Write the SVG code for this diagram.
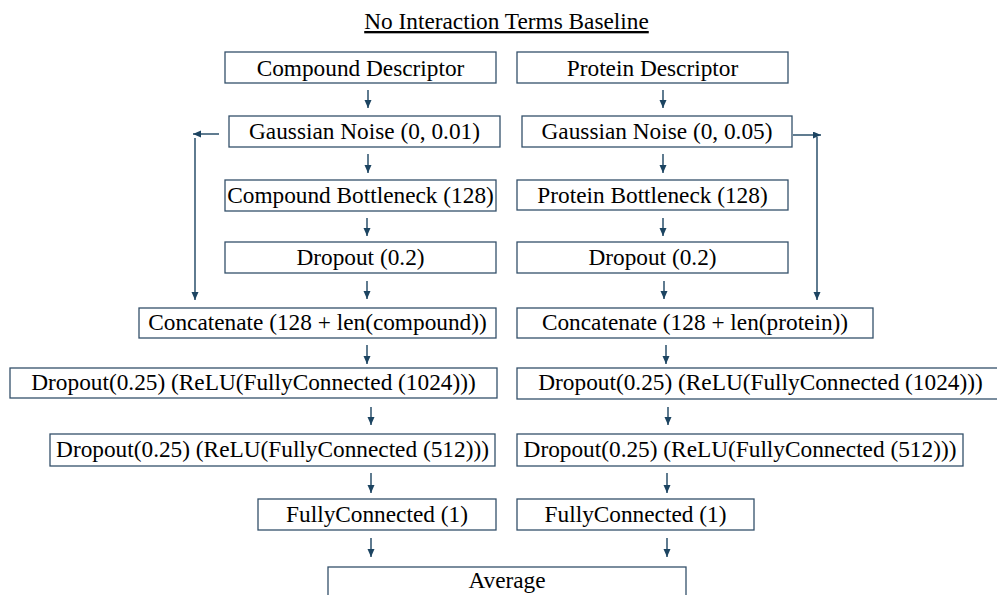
<svg xmlns="http://www.w3.org/2000/svg" width="997" height="595" viewBox="0 0 997 595">
<defs>
<marker id="ah" markerUnits="userSpaceOnUse" markerWidth="9" markerHeight="8" refX="8" refY="3.5" orient="auto">
<path d="M0,0 L8,3.5 L0,7 z" fill="#1c4461"/>
</marker>
<style>
.box{fill:#ffffff;stroke:#34506a;stroke-width:1.3}
.t{font-size:23.3px;fill:#000;text-anchor:middle}
.c{fill:none;stroke:#1c4461;stroke-width:1.4;marker-end:url(#ah)}
</style>
</defs>
<rect width="997" height="595" fill="#ffffff"/>
<g font-family="Liberation Serif, Times New Roman, DejaVu Serif, serif">
<text class="t" x="506.5" y="29" text-decoration="underline">No Interaction Terms Baseline</text>

<g id="connectors">
<path class="c" d="M368,90 V108"/>
<path class="c" d="M368,154 V173"/>
<path class="c" d="M367,218 V236"/>
<path class="c" d="M367,281 V299"/>
<path class="c" d="M367,345 V364"/>
<path class="c" d="M371,407 V425"/>
<path class="c" d="M371,473 V493"/>
<path class="c" d="M371,538 V557"/>
<path class="c" d="M663,90 V108"/>
<path class="c" d="M663,154 V173"/>
<path class="c" d="M663,218 V236"/>
<path class="c" d="M664,281 V299"/>
<path class="c" d="M666,345 V364"/>
<path class="c" d="M668,407 V425"/>
<path class="c" d="M667,473 V493"/>
<path class="c" d="M667,538 V557"/>
<path class="c" d="M219,134 H193"/>
<path class="c" d="M195,138 V300"/>
<path class="c" d="M793,135 H821"/>
<path class="c" d="M817,137 V300"/>
</g>

<g id="compound-descriptor"><rect class="box" x="225" y="52" width="271" height="31"/><text class="t" x="360.5" y="75.5">Compound Descriptor</text></g>
<g id="compound-noise"><rect class="box" x="229" y="116" width="271" height="31"/><text class="t" x="364.5" y="139">Gaussian Noise (0, 0.01)</text></g>
<g id="compound-bottleneck"><rect class="box" x="225" y="180" width="271" height="31"/><text class="t" x="360.5" y="203">Compound Bottleneck (128)</text></g>
<g id="compound-dropout"><rect class="box" x="225" y="242" width="271" height="31"/><text class="t" x="360.5" y="265">Dropout (0.2)</text></g>
<g id="compound-concat"><rect class="box" x="139" y="308" width="357" height="30"/><text class="t" x="317.5" y="330">Concatenate (128 + len(compound))</text></g>
<g id="compound-fc1024"><rect class="box" x="10" y="368" width="487" height="30"/><text class="t" x="253.5" y="390">Dropout(0.25) (ReLU(FullyConnected (1024)))</text></g>
<g id="compound-fc512"><rect class="box" x="50" y="434" width="445" height="32"/><text class="t" x="272.5" y="457">Dropout(0.25) (ReLU(FullyConnected (512)))</text></g>
<g id="compound-fc1"><rect class="box" x="258" y="499" width="238" height="31"/><text class="t" x="377" y="522">FullyConnected (1)</text></g>

<g id="protein-descriptor"><rect class="box" x="517" y="52" width="271" height="31"/><text class="t" x="652.5" y="75.5">Protein Descriptor</text></g>
<g id="protein-noise"><rect class="box" x="522" y="116" width="270" height="31"/><text class="t" x="657" y="139">Gaussian Noise (0, 0.05)</text></g>
<g id="protein-bottleneck"><rect class="box" x="517" y="180" width="271" height="30"/><text class="t" x="652.5" y="203">Protein Bottleneck (128)</text></g>
<g id="protein-dropout"><rect class="box" x="517" y="242" width="271" height="31"/><text class="t" x="652.5" y="265">Dropout (0.2)</text></g>
<g id="protein-concat"><rect class="box" x="517" y="308" width="356" height="30"/><text class="t" x="695" y="330">Concatenate (128 + len(protein))</text></g>
<g id="protein-fc1024"><rect class="box" x="517" y="368" width="490" height="31"/><text class="t" x="760.5" y="390">Dropout(0.25) (ReLU(FullyConnected (1024)))</text></g>
<g id="protein-fc512"><rect class="box" x="517" y="434" width="446" height="32"/><text class="t" x="740" y="457">Dropout(0.25) (ReLU(FullyConnected (512)))</text></g>
<g id="protein-fc1"><rect class="box" x="517" y="499" width="237" height="31"/><text class="t" x="635.5" y="522">FullyConnected (1)</text></g>

<g id="average"><rect class="box" x="328" y="567" width="358" height="40"/><text class="t" x="507" y="588">Average</text></g>
</g>
</svg>
